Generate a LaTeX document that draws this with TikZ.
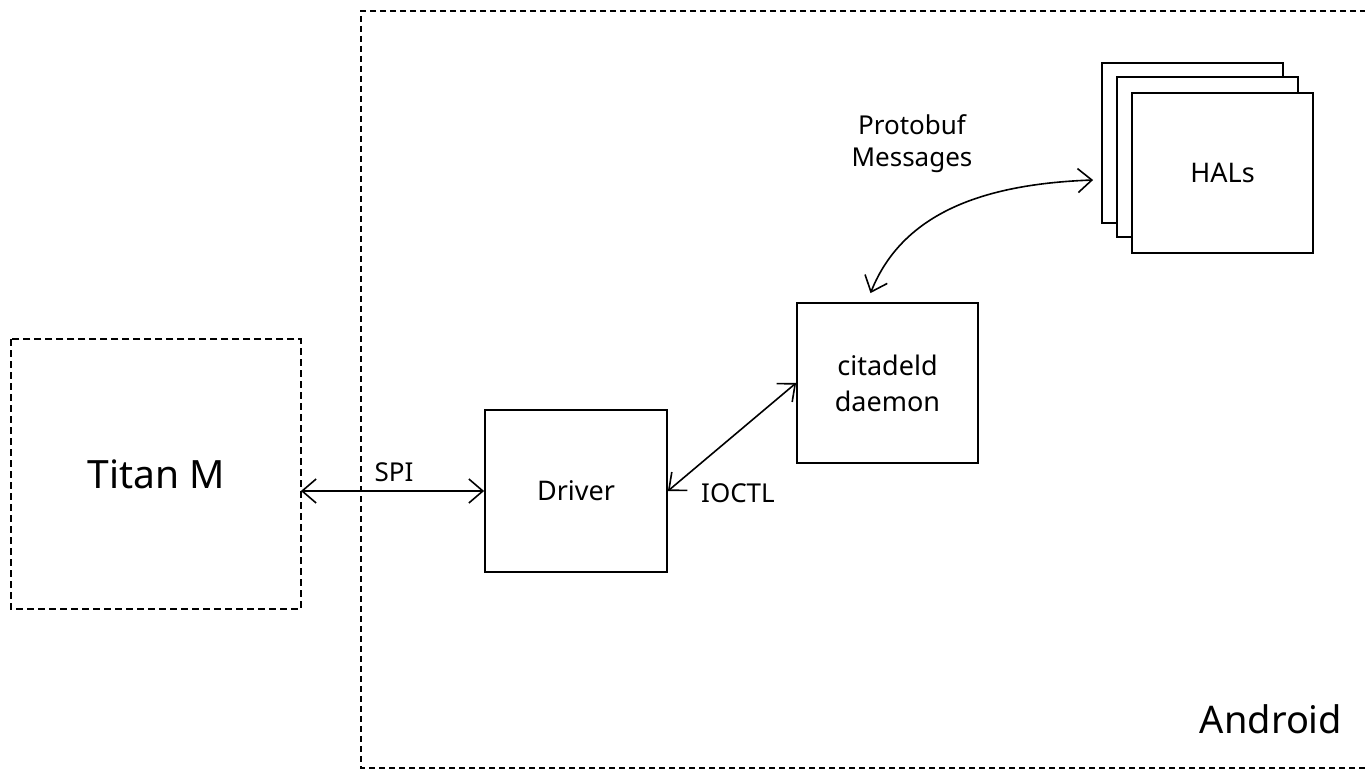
\documentclass[tikz,border=0pt]{standalone}
\usepackage{fontspec}
\setmainfont{Noto Sans}
\usetikzlibrary{arrows.meta,calc}
\begin{document}
\begin{tikzpicture}[x=1pt,y=-1pt,
  box/.style={draw=black,line width=1.8pt,fill=white,rectangle,inner sep=0pt,align=center,
    font=\fontsize{27}{36}\selectfont},
  lbl/.style={inner sep=0pt,align=center,font=\fontsize{26}{32}\selectfont},
  big/.style={inner sep=0pt,font=\fontsize{38}{44}\selectfont},
  conn/.style={line width=1.6pt,{Straight Barb[length=14pt,width=24pt,line width=1.6pt]}-{Straight Barb[length=14pt,width=24pt,line width=1.6pt]}},
  frame/.style={line width=1.3pt,dash pattern=on 6pt off 4pt}
]
\useasboundingbox[fill=white] (0,0) rectangle (1365,770);
% Android frame
\draw[frame] (1366,11) -- (361,11) -- (361,768) -- (1366,768);
\node[big,anchor=center] (android) at (1271,719) {Android};
% Titan M
\node[box,draw=none,minimum width=288pt,minimum height=268pt,font=\fontsize{39}{44}\selectfont] (titan) at (156,474) {Titan M};
\draw[line width=1.9pt,dash pattern=on 7pt off 4pt] (titan.north west) rectangle (titan.south east);
% Driver
\node[box,minimum width=182pt,minimum height=162pt] (driver) at (576,491) {Driver};
% citadeld
\node[box,minimum width=181pt,minimum height=160pt] (citadeld) at (887.5,383) {citadeld\\daemon};
% HALs stack
\node[box,minimum width=181pt,minimum height=160pt] (hal1) at (1192.5,143) {};
\node[box,minimum width=181pt,minimum height=160pt] (hal2) at (1207.5,157) {};
\node[box,minimum width=181pt,minimum height=160pt] (hals) at (1222.5,173) {HALs};
% labels
\node[lbl] (spi) at (394,472) {SPI};
\node[lbl] (ioctl) at (738,493) {IOCTL};
\node[lbl] (proto) at (912,144) {Protobuf\\Messages};
% connectors
\draw[conn] (titan.east |- driver.west) -- (driver.west);
\draw[conn] (driver.east) -- (citadeld.west);
\coordinate (ca) at ($(citadeld.north)+(-17,-9)$);
\coordinate (hb) at ($(hal1.west)+(-8,37)$);
\draw[conn] (ca) .. controls (903,212) and (985,184) .. (hb);
\end{tikzpicture}
\end{document}
